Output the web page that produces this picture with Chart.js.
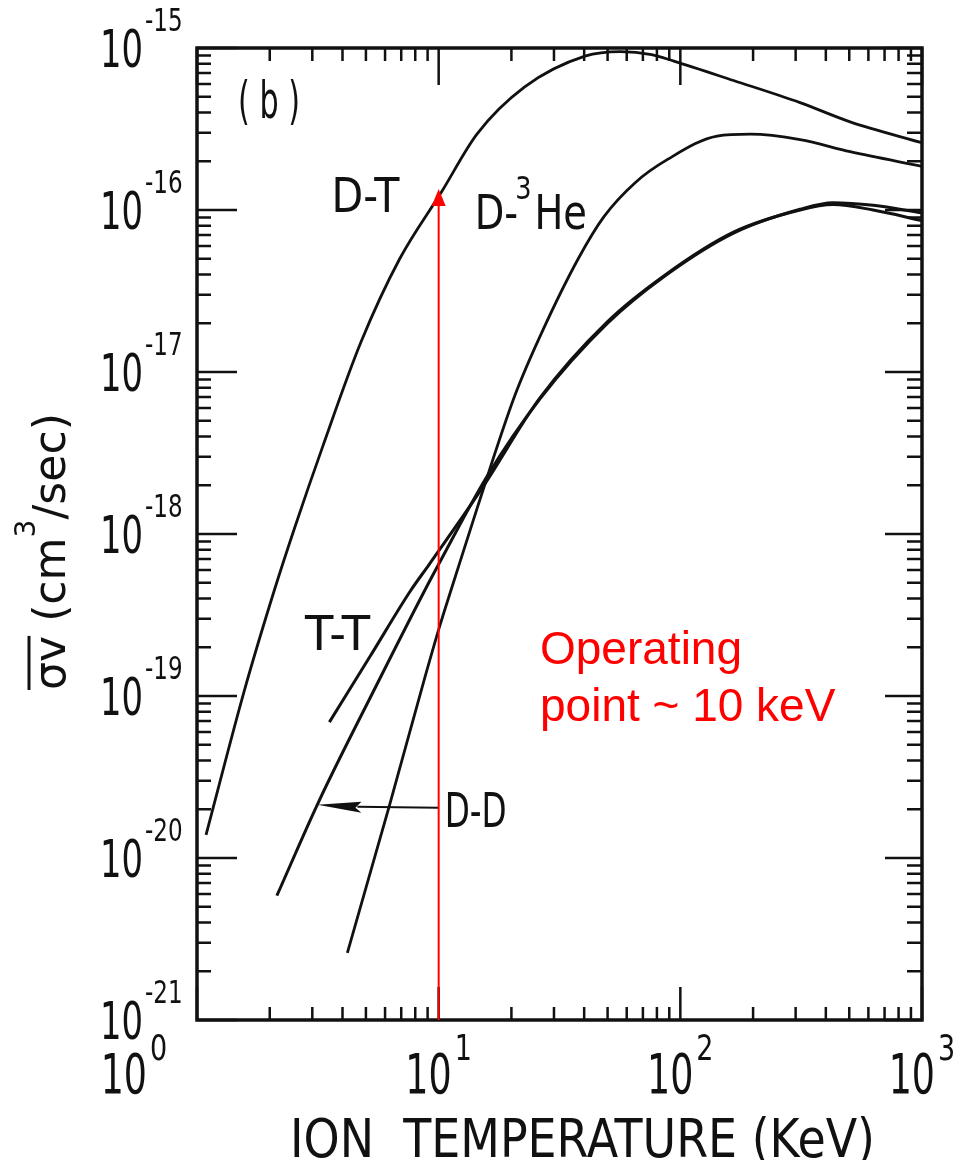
<!DOCTYPE html>
<html>
<head>
<meta charset="utf-8">
<script src="https://cdn.jsdelivr.net/npm/chart.js@4.4.1/dist/chart.umd.min.js"></script>
<style>
html, body { margin: 0; padding: 0; background: #fff; }
canvas { display: block; }
</style>
</head>
<body>
<canvas id="chart" width="964" height="1160"></canvas>
<script>
// reactivity curves (T in keV, <sigma v> in cm3/sec)
var dtTemp = [1.09, 1.57, 2.08, 2.54, 3.32, 4.77, 6.9, 10.3, 14.4, 22.7, 40.3, 56.4, 76, 94, 166, 313, 504, 1000];
var dtRate = [1.39e-20, 1.08e-19, 4.4e-19, 1.1e-18, 3.5e-18, 1.53e-17, 5.0e-17, 1.3e-16, 2.94e-16, 5.75e-16, 8.9e-16, 9.5e-16, 9.1e-16, 8.3e-16, 6.3e-16, 4.6e-16, 3.5e-16, 2.6e-16];

var dheTemp = [4.19, 6.25, 8.7, 10.1, 11.6, 14.4, 20.7, 26.7, 37.8, 48.3, 65.2, 88.9, 142, 195, 313, 504, 1000];
var dheRate = [2.6e-21, 2.1e-20, 1.25e-19, 2.7e-19, 5.2e-19, 1.43e-18, 7.2e-18, 1.75e-17, 5.0e-17, 9.1e-17, 1.48e-16, 2.06e-16, 2.86e-16, 2.94e-16, 2.72e-16, 2.29e-16, 1.86e-16];

var ddTemp = [2.14, 3.19, 5.49, 8.7, 10.0, 15.8, 26.2, 50, 86, 166, 313, 428, 628, 1000];
var ddRate = [5.85e-21, 2.23e-20, 1.14e-19, 4.4e-19, 6.5e-19, 2.25e-18, 6.8e-18, 2.0e-17, 3.9e-17, 7.2e-17, 1.01e-16, 1.11e-16, 1.07e-16, 9.6e-17];

var ttTemp = [3.53, 5.22, 7.6, 9.14, 15.2, 26.2, 50, 86, 166, 313, 428, 628, 1000];
var ttRate = [6.9e-20, 1.77e-19, 4.4e-19, 6.5e-19, 1.94e-18, 6.9e-18, 2.05e-17, 3.95e-17, 7.3e-17, 1.0e-16, 1.08e-16, 1.0e-16, 8.6e-17];

var xMajor = [1, 10, 100, 1000];
var xExp = ['0', '1', '2', '3'];
var yMajor = [1e-21, 1e-20, 1e-19, 1e-18, 1e-17, 1e-16, 1e-15];
var yExp = ['-21', '-20', '-19', '-18', '-17', '-16', '-15'];
var minorSteps = [2, 3, 4, 5, 6, 7, 8, 9];

var xTitle = 'ION  TEMPERATURE (KeV)';
var yTitleParts = ['\u03c3v', ' (cm', '3', '/sec)'];
var operatingLines = ['Operating', 'point ~ 10 keV'];
var operatingTemp = 10;
var operatingTop = 1.35e-16;   // where the red arrow meets D-T
var ddArrowLevel = 2.07e-20;
var ddArrowTip = 3.15;

var FONT = '"DejaVu Sans", sans-serif';

function toPoints(xs, ys) {
    return xs.map(function (x, i) { return { x: x, y: ys[i] }; });
}

// text squeezed horizontally, like the narrow lettering of the original
function drawText(ctx, text, x, y, size, sx, align) {
    ctx.font = size + 'px ' + FONT;
    var w = ctx.measureText(text).width * sx;
    var left = x;
    if (align === 'right') left = x - w;
    if (align === 'center') left = x - w / 2;
    ctx.save();
    ctx.translate(left, y);
    ctx.scale(sx, 1);
    ctx.textAlign = 'left';
    ctx.textBaseline = 'alphabetic';
    ctx.fillText(text, 0, 0);
    ctx.restore();
    return w;
}

function fitText(ctx, text, x, y, size, width) {
    ctx.font = size + 'px ' + FONT;
    var w = ctx.measureText(text).width;
    return drawText(ctx, text, x, y, size, width / w, 'left');
}

var decorations = {
    id: 'decorations',
    afterDatasetsDraw: function (chart) {
        var ctx = chart.ctx;
        var xs = chart.scales.x, ys = chart.scales.y;
        var a = chart.chartArea;
        ctx.save();
        ctx.strokeStyle = '#111';
        ctx.fillStyle = '#111';

        // ticks, pointing inward on all four sides
        ctx.lineWidth = 2.5;
        ctx.beginPath();
        xMajor.forEach(function (v, i) {
            var px = xs.getPixelForValue(v);
            ctx.moveTo(px, a.bottom); ctx.lineTo(px, a.bottom - 33);
            ctx.moveTo(px, a.top); ctx.lineTo(px, a.top + 37);
            if (i < xMajor.length - 1) {
                minorSteps.forEach(function (m) {
                    var mx = xs.getPixelForValue(v * m);
                    ctx.moveTo(mx, a.bottom); ctx.lineTo(mx, a.bottom - 13);
                    ctx.moveTo(mx, a.top); ctx.lineTo(mx, a.top + 13);
                });
            }
        });
        yMajor.forEach(function (v, i) {
            var py = ys.getPixelForValue(v);
            ctx.moveTo(a.left, py); ctx.lineTo(a.left + 40, py);
            ctx.moveTo(a.right, py); ctx.lineTo(a.right - 37, py);
            if (i < yMajor.length - 1) {
                minorSteps.forEach(function (m) {
                    var my = ys.getPixelForValue(v * m);
                    ctx.moveTo(a.left, my); ctx.lineTo(a.left + 14, my);
                    ctx.moveTo(a.right, my); ctx.lineTo(a.right - 15, my);
                });
            }
        });
        ctx.stroke();

        // frame
        ctx.lineWidth = 3.5;
        ctx.strokeRect(a.left, a.top, a.right - a.left, a.bottom - a.top);

        // tick labels
        yMajor.forEach(function (v, i) {
            var py = ys.getPixelForValue(v);
            drawText(ctx, '10', 143, py + 19, 52, 0.65, 'right');
            drawText(ctx, yExp[i], 145, py - 17, 32, 0.72, 'left');
        });
        xMajor.forEach(function (v, i) {
            var px = xs.getPixelForValue(v) + (i === 0 ? -63 : 0);
            drawText(ctx, '10', px + 13, 1093, 56, 0.65, 'right');
            drawText(ctx, xExp[i], px + 16, 1060, 36, 0.75, 'left');
        });

        // axis titles
        fitText(ctx, xTitle, 290, 1157, 54, 585);

        ctx.save();
        ctx.translate(65, 690);
        ctx.rotate(-Math.PI / 2);
        ctx.font = '44px ' + FONT;
        var w0 = ctx.measureText(yTitleParts[0]).width;
        var w1 = ctx.measureText(yTitleParts[1]).width;
        var w3 = ctx.measureText(yTitleParts[3]).width;
        ctx.font = '28px ' + FONT;
        var w2 = ctx.measureText(yTitleParts[2]).width;
        var sx = 277 / (w0 + w1 + w2 + w3);
        var cx = 0;
        cx += drawText(ctx, yTitleParts[0], cx, 0, 44, sx, 'left');
        ctx.lineWidth = 3;
        ctx.beginPath();
        ctx.moveTo(0, -36); ctx.lineTo(cx, -36);
        ctx.stroke();
        cx += drawText(ctx, yTitleParts[1], cx, 0, 44, sx, 'left');
        cx += drawText(ctx, yTitleParts[2], cx, -30, 28, sx, 'left');
        drawText(ctx, yTitleParts[3], cx, 0, 44, sx, 'left');
        ctx.restore();

        // curve labels
        fitText(ctx, '( b )', 238, 118, 52, 62);
        var p;
        p = { x: xs.getPixelForValue(3.6), y: ys.getPixelForValue(9.7e-17) };
        fitText(ctx, 'D-T', p.x, p.y, 48, 68);
        p = { x: xs.getPixelForValue(14.1), y: ys.getPixelForValue(7.6e-17) };
        var dw = drawText(ctx, 'D-', p.x, p.y, 48, 0.8, 'left');
        var sw = drawText(ctx, '3', p.x + dw - 3, p.y - 30, 32, 0.8, 'left');
        drawText(ctx, 'He', p.x + dw + sw, p.y, 48, 0.8, 'left');
        p = { x: xs.getPixelForValue(2.8), y: ys.getPixelForValue(1.93e-19) };
        fitText(ctx, 'T-T', p.x, p.y, 48, 65);
        p = { x: xs.getPixelForValue(operatingTemp) + 6, y: ys.getPixelForValue(1.56e-20) };
        fitText(ctx, 'D-D', p.x, p.y, 48, 62);

        // D-D pointer arrow
        var ay = ys.getPixelForValue(ddArrowLevel);
        var ax0 = xs.getPixelForValue(operatingTemp);
        var ax1 = xs.getPixelForValue(ddArrowTip);
        ctx.lineWidth = 2;
        ctx.beginPath();
        ctx.moveTo(ax0, ay + 1); ctx.lineTo(ax1 + 40, ay);
        ctx.stroke();
        ctx.beginPath();
        ctx.moveTo(ax1, ay - 2);
        ctx.lineTo(ax1 + 44, ay - 5);
        ctx.lineTo(ax1 + 38, ay + 1);
        ctx.lineTo(ax1 + 44, ay + 6);
        ctx.closePath();
        ctx.fill();

        // operating point arrow
        var rx = xs.getPixelForValue(operatingTemp);
        var rTop = ys.getPixelForValue(operatingTop);
        ctx.strokeStyle = '#ff0000';
        ctx.fillStyle = '#ff0000';
        ctx.lineWidth = 2;
        ctx.beginPath();
        ctx.moveTo(rx, a.bottom); ctx.lineTo(rx, rTop + 16);
        ctx.stroke();
        ctx.beginPath();
        ctx.moveTo(rx, rTop);
        ctx.lineTo(rx - 7, rTop + 17);
        ctx.lineTo(rx + 7, rTop + 17);
        ctx.closePath();
        ctx.fill();

        ctx.font = '46px "Liberation Sans", Arial, sans-serif';
        ctx.textAlign = 'left';
        ctx.textBaseline = 'alphabetic';
        ctx.fillText(operatingLines[0], 540, 664);
        ctx.fillText(operatingLines[1], 540, 721);
        ctx.restore();
    }
};

function curve(label, xs, ys, width) {
    return {
        label: label,
        data: toPoints(xs, ys),
        borderColor: '#111',
        borderWidth: width,
        pointRadius: 0,
        fill: false,
        cubicInterpolationMode: 'monotone'
    };
}

new Chart(document.getElementById('chart'), {
    type: 'line',
    data: {
        datasets: [
            curve('D-T', dtTemp, dtRate, 2.8),
            curve('D-3He', dheTemp, dheRate, 2.8),
            curve('D-D', ddTemp, ddRate, 3),
            curve('T-T', ttTemp, ttRate, 3)
        ]
    },
    options: {
        responsive: false,
        animation: false,
        devicePixelRatio: 1,
        layout: { padding: { left: 197, right: 42, top: 48, bottom: 140 } },
        plugins: { legend: { display: false }, tooltip: { enabled: false } },
        scales: {
            x: { type: 'logarithmic', min: 1, max: 1000, display: false },
            y: { type: 'logarithmic', min: 1e-21, max: 1e-15, display: false }
        }
    },
    plugins: [decorations]
});
</script>
</body>
</html>
